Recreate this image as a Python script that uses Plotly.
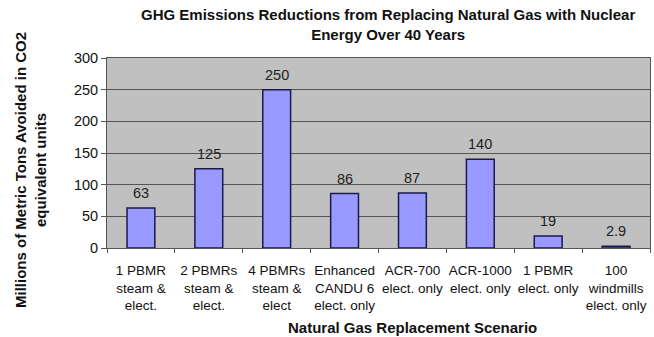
import plotly.graph_objects as go

categories = ["1 PBMR<br>steam &<br>elect.", "2 PBMRs<br>steam &<br>elect.", "4 PBMRs<br>steam &<br>elect",
              "Enhanced<br>CANDU 6<br>elect. only", "ACR-700<br>elect. only", "ACR-1000<br>elect. only",
              "1 PBMR<br>elect. only", "100<br>windmills<br>elect. only"]
values = [63, 125, 250, 86, 87, 140, 19, 2.9]
labels = ["63", "125", "250", "86", "87", "140", "19", "2.9"]
y_ticks = [0, 50, 100, 150, 200, 250, 300]

FONT = "Liberation Sans, Arial, sans-serif"

fig = go.Figure(go.Bar(
    x=categories, y=values,
    marker=dict(color="#9999ff", line=dict(color="#1a1a4d", width=1.5)),
    width=0.41,
))

for c, v, t in zip(categories, values, labels):
    fig.add_annotation(x=c, y=v, text=t, showarrow=False, yanchor="bottom", yshift=5,
                       font=dict(size=14.5, family=FONT, color="#222"))

fig.add_annotation(text="<b>GHG Emissions Reductions from Replacing Natural Gas with Nuclear<br>Energy Over 40 Years</b>",
                   xref="paper", yref="paper", x=0.5175, y=(248 - 24) / 190, xanchor="center", yanchor="middle",
                   showarrow=False, font=dict(size=15, family=FONT, color="#111"))
fig.add_annotation(text="<b>Millions of Metric Tons Avoided in CO2<br>equivalent units</b>", textangle=-90,
                   xref="paper", yref="paper", x=(30 - 107) / 543, y=(248 - 170) / 190,
                   xanchor="center", yanchor="middle", showarrow=False,
                   font=dict(size=15, family=FONT, color="#111"))
fig.add_annotation(text="<b>Natural Gas Replacement Scenario</b>",
                   xref="paper", yref="paper", x=(412 - 107) / 543, y=(248 - 327) / 190,
                   xanchor="center", yanchor="middle", showarrow=False,
                   font=dict(size=15, family=FONT, color="#111"))

fig.update_layout(
    width=654, height=337,
    margin=dict(l=107, r=4, t=58, b=89, autoexpand=False),
    paper_bgcolor="white", plot_bgcolor="#c0c0c0",
    font=dict(family=FONT, color="#111"),
    showlegend=False,
    xaxis=dict(showgrid=False, showline=True, linecolor="#555", linewidth=1,
               ticks="outside", ticklen=4, tickcolor="#555", tickangle=0,
               tickfont=dict(size=13.5, family=FONT, color="#111"),
               tickson="boundaries", ticklabelstandoff=10, automargin=False,
               mirror=True),
    yaxis=dict(range=[0, 300], tickvals=y_ticks, showgrid=True, gridcolor="#555", gridwidth=1,
               showline=True, linecolor="#555", mirror=True, ticks="outside", ticklen=5, tickcolor="#555",
               tickfont=dict(size=14.5, family=FONT, color="#111"), automargin=False,
               zeroline=False),
)

fig.write_html("out.html", config={"displayModeBar": False},
               post_script="document.body.style.margin='0';document.body.style.overflow='hidden';")
